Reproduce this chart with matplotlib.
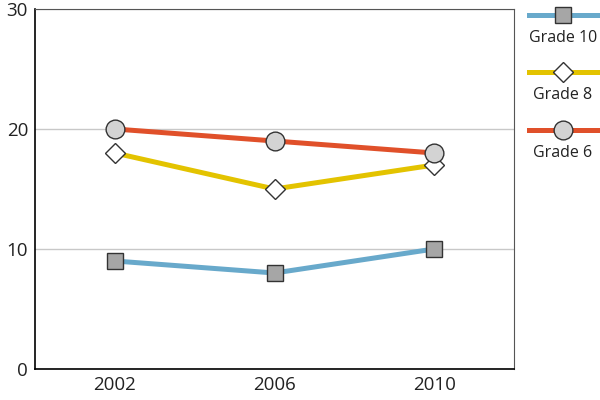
import matplotlib
matplotlib.use('Agg')
import matplotlib.pyplot as plt
from matplotlib.lines import Line2D

plt.rcParams['font.family'] = ['Open Sans', 'DejaVu Sans']

years = [2002, 2006, 2010]
grade10 = [9, 8, 10]
grade8 = [18, 15, 17]
grade6 = [20, 19, 18]
y_ticks = [0, 10, 20, 30]

series = [
    ('Grade 10', grade10, '#68a9cb', 's', '#a6a6a6', 12),
    ('Grade 8', grade8, '#e3c300', 'D', 'white', 10),
    ('Grade 6', grade6, '#e0502a', 'o', '#d3d3d3', 13.5),
]

fig = plt.figure(figsize=(6, 4), dpi=100)
ax = fig.add_axes([35 / 600, 31 / 400, 479 / 600, 360 / 400])

for name, vals, col, mk, fc, ms in series:
    ax.plot(years, vals, color=col, lw=3.6, marker=mk, markersize=ms,
            markerfacecolor=fc, markeredgecolor='#333333', markeredgewidth=1.0,
            zorder=3)

ax.set_xlim(2000, 2012)
ax.set_ylim(0, 30)
ax.set_xticks(years)
ax.set_yticks(y_ticks)
ax.tick_params(length=0, labelsize=13.5, colors='#222222', pad=5)
ax.yaxis.grid(True, color='#c8c8c8', lw=1)
ax.set_axisbelow(True)
for s in ['left', 'bottom']:
    ax.spines[s].set_color('black')
    ax.spines[s].set_linewidth(1.2)
for s in ['top', 'right']:
    ax.spines[s].set_color('#555555')
    ax.spines[s].set_linewidth(0.8)

# legend drawn at the right side, labels under each sample line
row_y = [15, 72, 130]
for (name, vals, col, mk, fc, ms), ry in zip(series, row_y):
    yf = 1 - ry / 400
    fig.add_artist(Line2D([529 / 600, 597 / 600], [yf, yf], color=col, lw=3.6,
                          transform=fig.transFigure))
    fig.add_artist(Line2D([563 / 600], [yf], marker=mk, markersize=ms,
                          markerfacecolor=fc, markeredgecolor='#333333',
                          markeredgewidth=1.0, transform=fig.transFigure))
    fig.text(563 / 600, 1 - (ry + 23) / 400, name, ha='center', va='center',
             fontsize=11.5, color='#222222')

fig.savefig('out.png', dpi=100)
